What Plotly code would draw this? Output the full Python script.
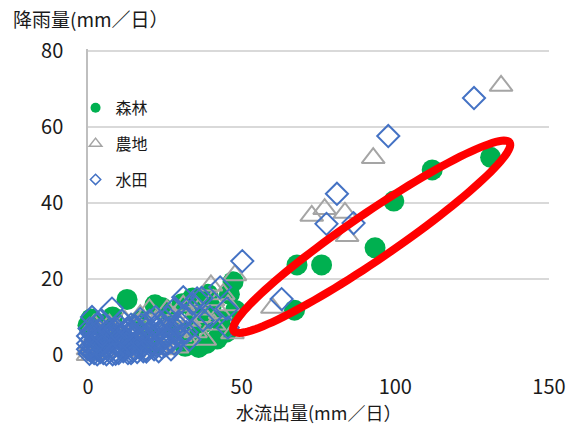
import numpy as np
import plotly.graph_objects as go

# ---- data: 森林 (forest) ----
forest_x = [131, 112, 99.5, 93.4, 76, 68, 67.2,
            47.2, 48, 46, 42, 43, 40, 37.4, 35, 34, 30.6, 26, 24, 21.8, 12.7, 0, 1,
            31.6, 36, 22, 17, 8, 5, 28, 45, 39, 15, 3, 10, 20, 33, 38.5]
forest_y = [52, 48.7, 40.5, 28.2, 23.7, 23.7, 11.8,
            19.3, 11.7, 16, 4.2, 9, 12.5, 8.3, 11, 15, 13.5, 10, 12.5, 13.2, 14.6, 7.8, 9.5,
            2.3, 2, 2.8, 9, 10, 8, 7, 6, 16, 3, 2, 5, 5, 6, 3]

# ---- data: 農地 (farmland) ----
farm_x = [134.4, 92.8, 72.8, 77, 83.6, 84.3, 60,
          47.8, 45.6, 47, 40, 40.7, 44, 41, 43, 38, 36, 35, 34, 33, 31, 30, 28, 27,
          25.7, 24, 22, 20, 20, 18, 17, 16, 15, 14, 12, 12, 10, 10, 8, 7, 6, 5, 4,
          3, 3, 2, 2, 1, 0.5, 0, 25, 38, 0, 1.5, 4, 32, 29]
farm_y = [70.8, 51.8, 36.6, 38.4, 37.4, 31.3, 12.4,
          21, 13.1, 5.7, 18.3, 14.4, 16, 8, 11, 10, 12, 6, 14, 9, 13, 5, 10, 7,
          11.8, 4, 9, 12, 6, 3, 10.4, 8, 1, 5, 9, 3, 6, 1, 2, 8, 4, 1, 3,
          6, 0.5, 8, 2, 1, 3, 0, 1.5, 4, 1.5, 0, 0.3, 4, 2]

# ---- data: 水田 (paddy) ----
paddy_x = [125.6, 97.7, 81, 77.6, 86.4, 63, 50.2,
           43, 45.2, 45.5, 37, 39.7, 31, 34, 37.4, 28.3, 31.5, 26, 35.5, 7.8, 1.3,
           0.5, 1, 1.5, 2, 2, 3, 3, 4, 4, 5, 5, 6, 6, 7, 7, 8, 8, 9, 9, 10, 10, 11,
           12, 12, 13, 14, 15, 15, 16, 17, 18, 18, 19, 20, 21, 22, 23, 24, 25, 26,
           27, 28, 29, 30, 0, 0.5, 0, 2, 3, 4, 1, 2, 3, 5, 20, 22, 24, 14, 11, 17,
           0, 1, 2.5, 3.5, 5.5, 6.5, 7.5, 8.5, 9.5, 10.5, 11.5, 12.5, 13.5, 14.5,
           15.5, 16.5, 17.5, 19, 20.5, 21.5, 23, 25, 26.5, 28, 13, 9, 6, 16, 19,
           27, 23, 30, 32, 33,
           1.5, 4.5, 7, 9, 11, 13, 15, 17, 19, 21, 22, 24, 25, 26, 18, 14, 10, 8]
paddy_y = [67.6, 57.6, 42.4, 34.5, 34.7, 14.7, 24.7,
           17.8, 12.2, 7.2, 15, 10, 15.2, 13.5, 9.1, 12.3, 10.4, 9.9, 14.9, 12.2, 10,
           0.3, 1, 2, 0.5, 3, 1.5, 5, 2.5, 0.8, 4, 1.5, 2, 6, 3, 1, 4.5, 2, 3, 1.2, 5, 2.5, 3.5,
           1.8, 6, 4, 2.5, 5, 1.5, 3.5, 6, 2.5, 4.5, 7, 3.5, 5, 2.5, 6, 4, 7.5, 5,
           3.5, 6, 8, 5, 5, 7, 3, 6.5, 8, 9, 4, 1.5, 0.2, 0.5, 9, 10, 8, 8, 9, 9.5,
           1.5, 6, 4, 6.5, 3, 4.5, 5.5, 6.5, 5.5, 7.5, 1, 3, 7, 1, 7.5, 2, 8, 1.5,
           6.5, 1.5, 8.5, 2.5, 7, 3, 0.5, 0.3, 0.2, 0.8, 0.9, 1.5, 1, 8.5, 6, 4,
           5.5, 5, 6.5, 7, 5, 6.5, 3, 4, 5, 3, 7, 2, 5, 3, 1, 0.5, 0.5, 0.2]

series_names = ["森林", "農地", "水田"]
x_ticks = [0, 50, 100, 150]
y_ticks = [0, 20, 40, 60, 80]

GREEN = "#00b050"
GRAY = "#a5a5a5"
BLUE = "#4472c4"
FONT = "Noto Sans CJK JP"
TXT = "#1a1a1a"

fig = go.Figure()
fig.add_trace(go.Scatter(x=forest_x, y=forest_y, mode="markers", showlegend=False,
                         cliponaxis=False,
                         marker=dict(symbol="circle", size=21, color=GREEN, line=dict(width=0))))
fig.add_trace(go.Scatter(x=farm_x, y=farm_y, mode="markers", showlegend=False,
                         cliponaxis=False,
                         marker=dict(symbol="triangle-up-open", size=20, color=GRAY,
                                     line=dict(width=2, color=GRAY))))
fig.add_trace(go.Scatter(x=paddy_x, y=paddy_y, mode="markers", showlegend=False,
                         cliponaxis=False,
                         marker=dict(symbol="diamond-open", size=17, color=BLUE,
                                     line=dict(width=2, color=BLUE))))

# legend-only entries with small markers
leg_styles = [dict(symbol="circle", size=10, color=GREEN),
              dict(symbol="triangle-up-open", size=11, color=GRAY, line=dict(width=1.5, color=GRAY)),
              dict(symbol="diamond-open", size=8, color=BLUE, line=dict(width=1.5, color=BLUE))]
for name, st in zip(series_names, leg_styles):
    fig.add_trace(go.Scatter(x=[None], y=[None], mode="markers", name=name,
                             legendgroup=name, marker=st))

# red ellipse highlighting the forest points (defined in data units)
cx, cy = 92.3, 31.1
u = np.array([44.9, 24.8])
v = np.array([4.22, -5.0])
t = np.linspace(0, 2 * np.pi, 121)
ex = cx + np.cos(t) * u[0] + np.sin(t) * v[0]
ey = cy + np.cos(t) * u[1] + np.sin(t) * v[1]
path = "M " + " L ".join(f"{a:.3f},{b:.3f}" for a, b in zip(ex, ey)) + " Z"
fig.add_shape(type="path", path=path, xref="x", yref="y",
              line=dict(color="#ff0000", width=8), fillcolor="rgba(0,0,0,0)", layer="above")

fig.update_layout(
    width=569, height=426,
    margin=dict(l=88, r=20, t=49, b=71, pad=0, autoexpand=False),
    paper_bgcolor="white", plot_bgcolor="white",
    font=dict(family=FONT, color=TXT, size=16),
    showlegend=True,
    legend=dict(x=-0.027, y=0.863, xanchor="left", yanchor="top",
                bgcolor="rgba(255,255,255,0)", font=dict(size=16, family=FONT, color=TXT),
                tracegroupgap=12, itemsizing="trace"),
    xaxis=dict(range=[0, 150], tickvals=x_ticks, showgrid=False, zeroline=False,
               showline=False, ticks="", tickfont=dict(size=20, family=FONT, color=TXT),
               ticklabelstandoff=18, fixedrange=True, automargin=False),
    yaxis=dict(range=[0, 80.5], tickvals=y_ticks, showgrid=True, gridcolor="#d9d9d9",
               gridwidth=1.5, zeroline=False, showline=True, linecolor="#bfbfbf",
               linewidth=1.5, layer="below traces", ticks="",
               tickfont=dict(size=20, family=FONT, color=TXT),
               ticklabelstandoff=19, fixedrange=True, automargin=False),
    annotations=[
        dict(text="降雨量(mm／日）", xref="paper", yref="paper", x=-0.166, y=1.1,
             xanchor="left", yanchor="middle", showarrow=False,
             font=dict(size=19, family=FONT, color=TXT)),
        dict(text="水流出量(mm／日）", xref="paper", yref="paper", x=0.5, y=-0.186,
             xanchor="center", yanchor="middle", showarrow=False,
             font=dict(size=18, family=FONT, color=TXT)),
    ],
)

fig.write_html("out.html", config={"displayModeBar": False},
               post_script="document.body.style.margin='0';document.body.style.overflow='hidden';")
